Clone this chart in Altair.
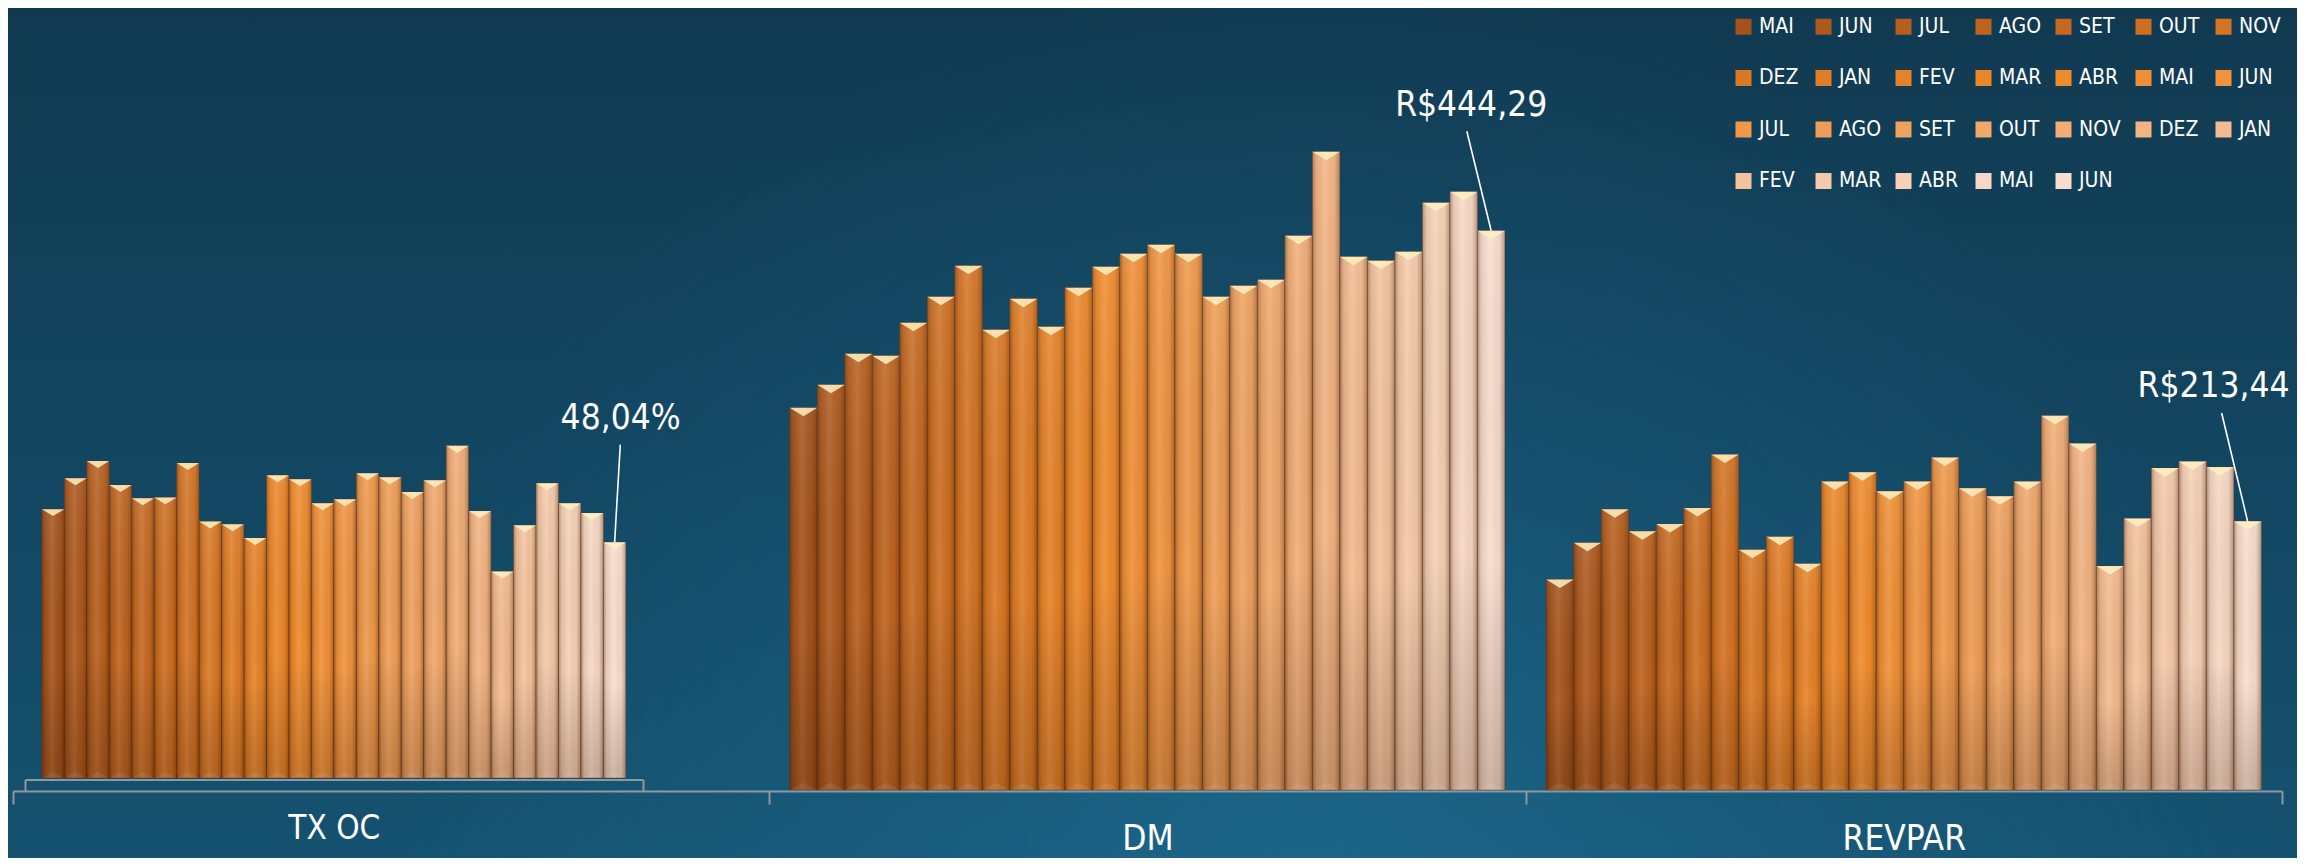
import altair as alt
import pandas as pd

# ---------------- data ----------------
GROUPS = ["TX OC", "DM", "REVPAR"]
MONTHS = ["MAI", "JUN", "JUL", "AGO", "SET", "OUT", "NOV", "DEZ", "JAN", "FEV", "MAR", "ABR",
          "MAI", "JUN", "JUL", "AGO", "SET", "OUT", "NOV", "DEZ", "JAN", "FEV", "MAR", "ABR",
          "MAI", "JUN"]
TX_OC = [54.8, 61.1, 64.6, 59.7, 57.0, 57.2, 64.2, 52.3, 51.7, 48.9, 61.7, 60.9, 56.0,
         56.8, 62.1, 61.3, 58.3, 60.7, 67.7, 54.4, 42.1, 51.5, 60.1, 56.0, 54.0, 48.04]
DM = [303.6, 321.9, 346.5, 344.9, 371.2, 391.8, 416.5, 365.6, 390.2, 368.0, 399.0, 415.7, 426.0,
      433.2, 426.0, 391.8, 400.6, 405.3, 440.3, 507.1, 423.6, 420.4, 427.6, 466.5, 475.3, 444.29]
REVPAR = [167.3, 196.4, 223.1, 205.6, 211.4, 224.1, 266.5, 190.8, 201.1, 179.7, 245.1, 252.5, 237.4,
          245.1, 264.2, 239.8, 233.4, 245.1, 297.2, 275.3, 177.9, 215.7, 255.7, 261.0, 256.5, 213.44]
LAST_LABELS = {"TX OC": "48,04%", "DM": "R$444,29", "REVPAR": "R$213,44"}
COLORS = ["#a4521a", "#ad581c", "#b65e1d", "#be631f", "#c66920", "#cd6e21", "#d47323",
          "#da7824", "#e07d26", "#e68227", "#ec8729", "#f08b2c", "#f08f35", "#f0933f",
          "#ef984a", "#ef9d55", "#efa260", "#f0a86b", "#f1ad76", "#f2b482", "#f3bb90",
          "#f4c39d", "#f5caaa", "#f6d1b7", "#f7d8c4", "#f8decf"]

KEYS = [f"{i + 1:02d} {m}" for i, m in enumerate(MONTHS)]

rows = []
for g, vals in (("TX OC", TX_OC), ("DM", DM), ("REVPAR", REVPAR)):
    for k, v in zip(KEYS, vals):
        rows.append({"group": g, "key": k, "value": v, "zero": 0})
df = pd.DataFrame(rows)
df["label"] = [LAST_LABELS[g] if k == KEYS[-1] else "" for g, k in zip(df["group"], df["key"])]
tx_df = df[df["group"] == "TX OC"]
main_df = df[df["group"] != "TX OC"]
tx_ann = tx_df[tx_df["key"] == KEYS[-1]]
dm_ann = main_df[(main_df["key"] == KEYS[-1]) & (main_df["group"] == "DM")]
rv_ann = main_df[(main_df["key"] == KEYS[-1]) & (main_df["group"] == "REVPAR")]

# ---------------- style ----------------
W, H, BOTTOM = 2289, 783, 67
FONT = "'Liberation Sans Narrow', 'DejaVu Sans Condensed', 'Arial Narrow', sans-serif"
AXIS_C = "#8f989d"

legend = alt.Legend(
    orient="none", legendX=1725, legendY=8, columns=7, direction="horizontal", title=None,
    symbolType="square", symbolSize=256, symbolStrokeWidth=0, symbolOpacity=1,
    labelFont=FONT, labelFontSize=21, labelColor="white", labelOffset=5,
    columnPadding=11, rowPadding=29.5, gridAlign="all", padding=0, labelLimit=120,
    labelExpr="substring(datum.label, 3)",
)
color_enc = alt.Color("key:N", scale=alt.Scale(domain=KEYS, range=COLORS), legend=legend)

shade_h = alt.Gradient(
    gradient="linear", x1=0, y1=0, x2=1, y2=0,
    stops=[alt.GradientStop(color="rgba(70,30,5,0.42)", offset=0),
           alt.GradientStop(color="rgba(70,30,5,0.10)", offset=0.14),
           alt.GradientStop(color="rgba(255,255,255,0.10)", offset=0.45),
           alt.GradientStop(color="rgba(70,30,5,0.05)", offset=0.8),
           alt.GradientStop(color="rgba(70,30,5,0.38)", offset=1)])
shade_v = alt.Gradient(
    gradient="linear", x1=0, y1=0, x2=0, y2=1,
    stops=[alt.GradientStop(color="rgba(255,255,255,0.06)", offset=0),
           alt.GradientStop(color="rgba(0,0,0,0)", offset=0.6),
           alt.GradientStop(color="rgba(60,25,5,0.22)", offset=1)])


def group_layers(data, anns, x_enc, y_enc, yzero_enc, bw):
    xo = alt.XOffset("key:N", scale=alt.Scale(domain=KEYS, paddingInner=0, paddingOuter=0.75))
    base = alt.Chart(data)
    bars = base.mark_bar(stroke="#5a2e12", strokeWidth=1, strokeOpacity=0.45).encode(
        x=x_enc, xOffset=xo, y=y_enc, color=color_enc)
    sh1 = base.mark_bar(color=shade_h, strokeWidth=0).encode(x=x_enc, xOffset=xo, y=y_enc)
    sh2 = base.mark_bar(color=shade_v, strokeWidth=0).encode(x=x_enc, xOffset=xo, y=y_enc)
    tri = base.mark_point(shape="M-1,0L1,0L0,0.62Z", filled=True, color="#fff0c0", opacity=0.85,
                          size=bw * bw, strokeWidth=0).encode(x=x_enc, xOffset=xo, y=y_enc)
    btri = base.mark_point(shape="M-1,0L1,0L0,-0.55Z", filled=True, color="white", opacity=0.08,
                           size=bw * bw, strokeWidth=0).encode(x=x_enc, xOffset=xo, y=yzero_enc)
    layers = [bars, sh1, sh2, tri, btri]
    for ann, path, length, dx, dy, align in anns:
        a = alt.Chart(ann)
        layers.append(a.mark_point(shape=path, filled=False, stroke="white", strokeWidth=1.6,
                                   opacity=1, size=(2 * length) ** 2).encode(x=x_enc, xOffset=xo, y=y_enc))
        layers.append(a.mark_text(font=FONT, fontSize=35, color="white", align=align,
                                  baseline="alphabetic", dx=dx, dy=dy).encode(
            x=x_enc, xOffset=xo, y=y_enc, text="label:N"))
    return alt.layer(*layers)


# TX OC (secondary axis)
x_tx = alt.X("group:N", scale=alt.Scale(type="band", domain=["TX OC"], range=[17, 634.7],
                                        paddingInner=0, paddingOuter=0),
             axis=alt.Axis(orient="bottom", title=None, offset=-11.5, domainColor=AXIS_C, domainWidth=2,
                           tickColor=AXIS_C, tickWidth=2, tickSize=11.5, tickBand="extent",
                           labelFont=FONT, labelFontSize=33, labelColor="white", labelPadding=47,
                           labelBaseline="alphabetic", labelAngle=0, grid=False, zindex=1))
ytx_scale = alt.Scale(domain=[0, 100], range=[770, 279.4], nice=False)
y_tx = alt.Y("value:Q", scale=ytx_scale, axis=None)
y0_tx = alt.Y("zero:Q", scale=ytx_scale, axis=None)

# DM / REVPAR (primary axis)
x_main = alt.X("group:N", scale=alt.Scale(type="band", domain=GROUPS, range=[4.7, 2274],
                                          paddingInner=0, paddingOuter=0),
               axis=alt.Axis(orient="bottom", title=None, domainColor=AXIS_C, domainWidth=2,
                             tickColor=AXIS_C, tickWidth=2, tickSize=13, tickBand="extent",
                             labelFont=FONT, labelFontSize=35, labelColor="white", labelPadding=45,
                             labelBaseline="alphabetic", labelAngle=0, grid=False, zindex=1,
                             labelExpr="datum.label == 'TX OC' ? '' : datum.label"))
ymain_scale = alt.Scale(domain=[0, 600], range=[782, 26.7], nice=False)
y_main = alt.Y("value:Q", scale=ymain_scale, axis=None)
y0_main = alt.Y("zero:Q", scale=ymain_scale, axis=None)

tx_group = group_layers(tx_df, [(tx_ann, "M0,0L0.058,-1", 97.7, 6, -113, "center")],
                        x_tx, y_tx, y0_tx, 22.46)
main_group = group_layers(main_df, [(dm_ann, "M0,0L-0.245,-1", 99.4, -20, -115, "center"),
                                    (rv_ann, "M0,0L-0.24,-1", 108.3, 42, -124, "right")],
                          x_main, y_main, y0_main, 27.5)

# background
bg_df = pd.DataFrame({"a": [0]})
bg_lin = alt.Gradient(
    gradient="linear", x1=0, y1=0, x2=0, y2=1,
    stops=[alt.GradientStop(color="#113a51", offset=0),
           alt.GradientStop(color="#124560", offset=0.5),
           alt.GradientStop(color="#155270", offset=1)])
bg_rad = alt.Gradient(
    gradient="radial", x1=0.57, y1=0.72, x2=0.57, y2=0.72, r1=0, r2=0.42,
    stops=[alt.GradientStop(color="rgba(35,120,160,0.55)", offset=0),
           alt.GradientStop(color="rgba(35,120,160,0.22)", offset=0.5),
           alt.GradientStop(color="rgba(35,120,160,0)", offset=1)])
bg1 = alt.Chart(bg_df).mark_rect(color=bg_lin).encode(
    x=alt.value(0), x2=alt.value(W), y=alt.value(0), y2=alt.value(H + BOTTOM))
bg2 = alt.Chart(bg_df).mark_rect(color=bg_rad).encode(
    x=alt.value(0), x2=alt.value(W), y=alt.value(0), y2=alt.value(H + BOTTOM))

chart = alt.layer(bg1, bg2, tx_group, main_group).resolve_scale(
    x="independent", y="independent", xOffset="independent"
).properties(
    width=W, height=H,
    padding={"left": 0, "top": 0, "right": 0, "bottom": BOTTOM},
    autosize=alt.AutoSizeParams(type="none"),
).configure_view(stroke=None).configure(background="#123f58")

chart.save("out.html", embed_options={"renderer": "svg", "actions": False})
